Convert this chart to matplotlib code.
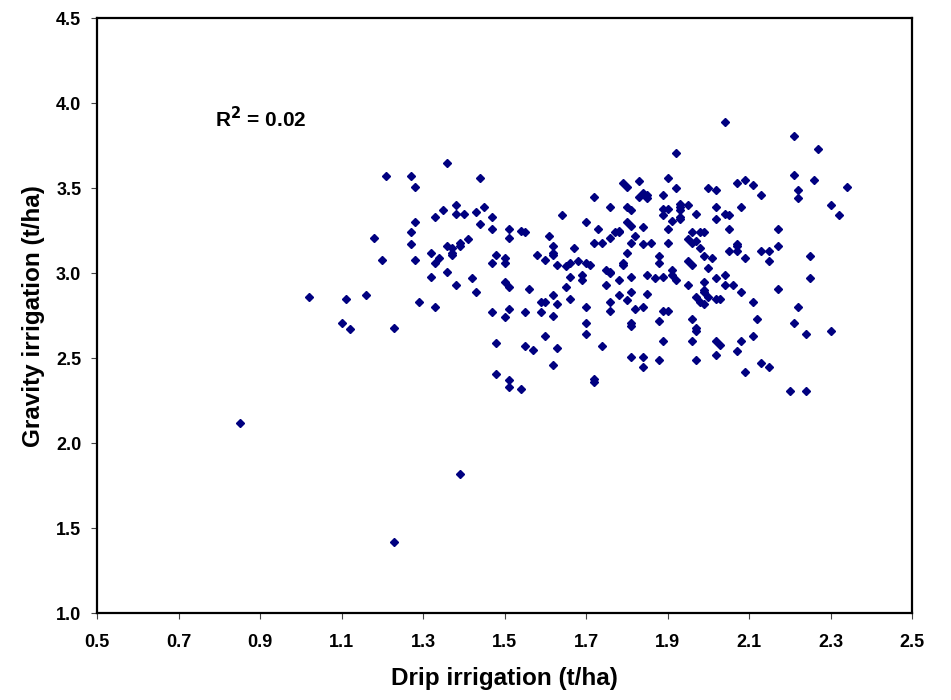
import matplotlib.pyplot as plt
import numpy as np

# drip vs gravity yields (t/ha)
drip = [
    1.21, 1.27, 1.28, 1.28, 1.18, 1.27, 1.27,
    1.20, 1.28, 1.02, 1.11, 1.16, 1.29, 1.10, 1.12, 1.23,
    0.85, 1.23, 1.39,
    1.36, 1.44, 1.33, 1.35, 1.38, 1.38, 1.40, 1.43, 1.45, 1.44, 1.47, 1.47,
    1.51, 1.51, 1.54, 1.55, 1.36, 1.37, 1.39, 1.39, 1.41, 1.61, 1.62, 1.64,
    1.70, 1.67, 1.72, 1.73, 1.72, 1.74, 1.76, 1.76, 1.77, 1.78, 1.78, 1.79,
    1.80, 1.80, 1.81, 1.80, 1.81, 1.82, 1.81, 1.83, 1.83,
    2.04, 1.92, 2.21, 2.27, 1.90, 1.92, 1.84, 1.85, 1.85, 1.89, 2.00, 2.02,
    2.07, 2.09, 2.11, 2.13, 2.21, 2.26, 2.22, 2.22, 2.34, 2.30, 2.32, 1.89,
    1.90, 1.89, 1.93, 1.93, 1.93, 1.93, 1.93, 1.95, 1.97, 2.02, 2.04, 2.05,
    2.02, 2.08, 2.05, 2.17, 2.17, 1.84, 1.90, 1.91, 1.96, 1.98, 1.99, 1.95,
    1.96, 1.97, 1.98, 1.90, 1.86, 1.84, 2.07, 2.07, 2.13, 2.15, 2.05, 2.07,
    1.32, 1.33, 1.34, 1.37, 1.37, 1.32, 1.36, 1.38, 1.42, 1.43, 1.33, 1.48,
    1.47, 1.50, 1.50, 1.58, 1.60, 1.62, 1.62, 1.63, 1.65, 1.66, 1.68, 1.70,
    1.71, 1.66, 1.69, 1.69, 1.65, 1.50, 1.51, 1.56, 1.47, 1.50, 1.51, 1.55,
    1.59, 1.60, 1.62, 1.63, 1.59, 1.62, 1.66, 1.70, 1.70, 1.70, 1.60, 1.48,
    1.55, 1.57, 1.63, 1.62, 1.48, 1.51, 1.51, 1.54, 1.72, 1.72, 1.74, 1.81,
    1.75, 1.76, 1.76, 1.79, 1.79, 1.80, 1.81, 1.78, 1.75, 1.81, 1.78, 1.80,
    1.76, 1.76, 1.82, 1.81, 1.81,
    1.88, 1.88, 1.95, 1.96, 1.99, 2.01, 2.00, 2.09, 2.15, 2.25, 2.25, 2.17,
    1.85, 1.87, 1.89, 1.91, 1.91, 1.92, 1.85, 1.84, 1.95, 1.99, 1.99, 1.99,
    2.00, 1.97, 1.98, 1.99, 2.02, 2.04, 2.04, 2.06, 2.08, 2.02, 2.03, 2.11,
    1.89, 1.90, 1.88, 1.96, 1.97, 1.97, 2.12, 2.22, 2.21, 2.24, 2.30, 1.89,
    1.96, 2.02, 2.03, 2.08, 2.11, 2.07, 2.02, 1.84, 1.84, 1.88, 1.97, 2.13,
    2.15, 2.09, 2.20, 2.24,
]
gravity = [
    3.57, 3.57, 3.51, 3.30, 3.21, 3.24, 3.17,
    3.08, 3.08, 2.86, 2.85, 2.87, 2.83, 2.71, 2.67, 2.68,
    2.12, 1.42, 1.82,
    3.65, 3.56, 3.33, 3.37, 3.40, 3.35, 3.35, 3.36, 3.39, 3.29, 3.33, 3.26,
    3.26, 3.21, 3.25, 3.24, 3.16, 3.15, 3.16, 3.18, 3.20, 3.22, 3.16, 3.34,
    3.30, 3.15, 3.45, 3.26, 3.18, 3.18, 3.21, 3.39, 3.24, 3.24, 3.25, 3.53,
    3.51, 3.39, 3.37, 3.30, 3.28, 3.22, 3.18, 3.45, 3.54,
    3.89, 3.71, 3.81, 3.73, 3.56, 3.50, 3.47, 3.46, 3.44, 3.46, 3.50, 3.49,
    3.53, 3.55, 3.52, 3.46, 3.58, 3.55, 3.49, 3.44, 3.51, 3.40, 3.34, 3.38,
    3.38, 3.34, 3.41, 3.39, 3.37, 3.33, 3.32, 3.40, 3.35, 3.39, 3.35, 3.34,
    3.32, 3.39, 3.26, 3.26, 3.16, 3.27, 3.26, 3.31, 3.24, 3.24, 3.24, 3.20,
    3.18, 3.19, 3.15, 3.18, 3.18, 3.17, 3.17, 3.16, 3.13, 3.13, 3.13, 3.13,
    3.12, 3.06, 3.09, 3.12, 3.11, 2.98, 3.01, 2.93, 2.97, 2.89, 2.80, 3.11,
    3.06, 3.09, 3.06, 3.11, 3.08, 3.12, 3.11, 3.05, 3.04, 3.06, 3.07, 3.06,
    3.05, 2.98, 2.99, 2.96, 2.92, 2.95, 2.92, 2.91, 2.77, 2.74, 2.79, 2.77,
    2.83, 2.83, 2.87, 2.82, 2.77, 2.75, 2.85, 2.80, 2.71, 2.64, 2.63, 2.59,
    2.57, 2.55, 2.56, 2.46, 2.41, 2.37, 2.33, 2.32, 2.38, 2.36, 2.57, 2.51,
    3.02, 3.01, 3.00, 3.06, 3.05, 3.12, 2.98, 2.96, 2.93, 2.89, 2.87, 2.84,
    2.83, 2.78, 2.79, 2.71, 2.69,
    3.10, 3.06, 3.07, 3.05, 3.10, 3.09, 3.03, 3.09, 3.07, 3.10, 2.97, 2.91,
    2.99, 2.97, 2.98, 3.02, 2.99, 2.96, 2.88, 2.80, 2.93, 2.95, 2.90, 2.89,
    2.86, 2.86, 2.83, 2.82, 2.97, 2.99, 2.93, 2.93, 2.89, 2.85, 2.85, 2.83,
    2.78, 2.78, 2.72, 2.73, 2.68, 2.66, 2.73, 2.80, 2.71, 2.64, 2.66, 2.60,
    2.60, 2.60, 2.58, 2.60, 2.63, 2.54, 2.52, 2.51, 2.45, 2.49, 2.49, 2.47,
    2.45, 2.42, 2.31, 2.31,
]

plt.rcParams['font.family'] = ['Liberation Sans', 'DejaVu Sans']
plt.rcParams['font.weight'] = 'bold'

fig = plt.figure(figsize=(9.51, 7.0), dpi=100)
ax = fig.add_axes([0.102, 0.124, 0.857, 0.850])

ax.plot(drip, gravity, 'D', ms=4.2, color='#000080', mec='#000080', linestyle='none')

ax.set_xlim(0.5, 2.5)
ax.set_ylim(1.0, 4.5)
ax.set_xticks(np.arange(0.5, 2.51, 0.2))
ax.set_yticks(np.arange(1.0, 4.51, 0.5))
ax.xaxis.set_major_formatter(plt.FormatStrFormatter('%.1f'))
ax.yaxis.set_major_formatter(plt.FormatStrFormatter('%.1f'))
ax.tick_params(direction='out', length=4.3, width=0.8, color='#444444',
               labelsize=13)
ax.tick_params(axis='x', pad=11)
ax.tick_params(axis='y', pad=7)
for lab in ax.get_xticklabels() + ax.get_yticklabels():
    lab.set_fontweight('bold')
for s in ax.spines.values():
    s.set_linewidth(1.6)
    s.set_color('black')

ax.set_xlabel('Drip irrigation (t/ha)', fontsize=17.5, fontweight='bold', labelpad=11)
ax.set_ylabel('Gravity irrigation (t/ha)', fontsize=17.5, fontweight='bold', labelpad=8)

ax.text(0.79, 3.91, r'R$^2$ = 0.02', fontsize=15, fontweight='bold', va='center')

fig.savefig('out.png', dpi=100)
